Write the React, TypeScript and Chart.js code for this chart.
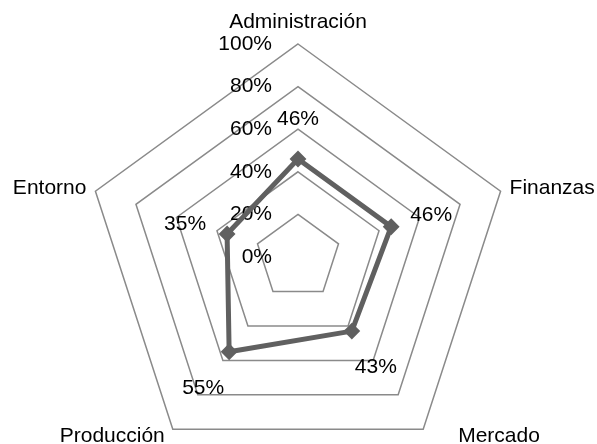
import React, { useEffect, useRef } from "react";
import { Chart, registerables } from "chart.js";

Chart.register(...registerables);

const categories = ["Administración", "Finanzas", "Mercado", "Producción", "Entorno"];
const values = [46, 46, 43, 55, 35];
const tickValues = [0, 20, 40, 60, 80, 100];

const FONT = '21px "Liberation Sans", Arial, sans-serif';
const CAT_LABEL_LAYOUT: { dx: number; dy: number; align: CanvasTextAlign }[] = [
  { dx: 0, dy: -22, align: "center" },
  { dx: 9, dy: -3, align: "left" },
  { dx: 35, dy: 7, align: "left" },
  { dx: -8, dy: 7, align: "right" },
  { dx: -9, dy: -3, align: "right" },
];
const VALUE_LABEL_OFFSETS = [
  [0, -40],
  [40, -12],
  [24, 36],
  [-26, 36],
  [-42, -10],
];

const labelsPlugin = {
  id: "customLabels",
  beforeDatasetsDraw(chart: any) {
    const scale = chart.scales.r;
    const ctx = chart.ctx;
    ctx.save();
    ctx.font = FONT;
    ctx.fillStyle = "#000";
    ctx.textBaseline = "middle";
    ctx.textAlign = "right";
    tickValues.forEach((v) => {
      const d = scale.getDistanceFromCenterForValue(v);
      ctx.fillText(`${v}%`, scale.xCenter - 26, scale.yCenter - d);
    });
    categories.forEach((c, i) => {
      const p = scale.getPointPosition(i, scale.drawingArea);
      const l = CAT_LABEL_LAYOUT[i];
      ctx.textAlign = l.align;
      ctx.fillText(c, p.x + l.dx, p.y + l.dy);
    });
    ctx.restore();
  },
  afterDatasetsDraw(chart: any) {
    const ctx = chart.ctx;
    ctx.save();
    ctx.font = FONT;
    ctx.fillStyle = "#000";
    ctx.textBaseline = "middle";
    ctx.textAlign = "center";
    const meta = chart.getDatasetMeta(0);
    meta.data.forEach((el: any, i: number) => {
      const o = VALUE_LABEL_OFFSETS[i];
      ctx.fillText(`${values[i]}%`, el.x + o[0], el.y + o[1]);
    });
    ctx.restore();
  },
};

export default function App() {
  const ref = useRef<HTMLCanvasElement>(null);
  useEffect(() => {
    document.body.style.margin = "0";
    document.body.style.overflow = "hidden";
    const chart = new Chart(ref.current!, {
      type: "radar",
      data: {
        labels: categories,
        datasets: [
          {
            data: values,
            borderColor: "#606060",
            backgroundColor: "#606060",
            borderWidth: 5,
            fill: false,
            pointStyle: "rectRot",
            pointRadius: 7,
            pointBorderWidth: 2,
            pointBackgroundColor: "#606060",
            pointBorderColor: "#606060",
          },
        ],
      },
      options: {
        responsive: false,
        animation: false,
        layout: { padding: { top: 44, bottom: 0, left: 85, right: 86 } },
        plugins: { legend: { display: false }, tooltip: { enabled: false } },
        scales: {
          r: {
            min: 0,
            max: 100,
            ticks: { display: false, stepSize: 20 },
            grid: { color: "#8a8a8a", lineWidth: 1.5 },
            angleLines: { display: false },
            pointLabels: { display: false },
          },
        },
      },
      plugins: [labelsPlugin],
    });
    return () => chart.destroy();
  }, []);
  return (
    <div style={{ width: 597, height: 444, overflow: "hidden", background: "#fff" }}>
      <canvas ref={ref} width={597} height={470} />
    </div>
  );
}
